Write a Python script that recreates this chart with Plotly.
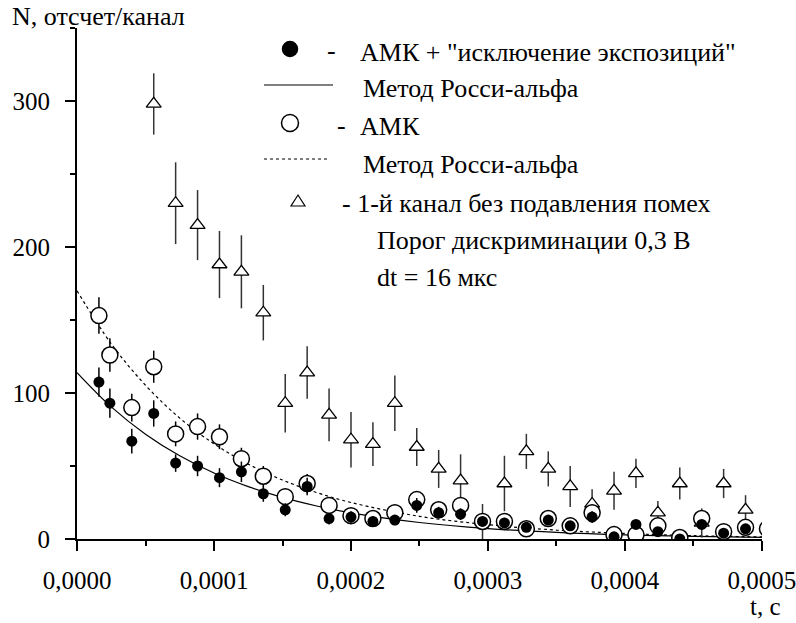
import plotly.graph_objects as go

# ---------------- data ----------------
t_circ_us = [16, 24, 40, 56, 72, 88, 104, 120, 136, 152, 168, 184, 200, 216, 232, 248,
             264, 280, 296, 312, 328, 344, 360, 376, 392, 408, 424, 440, 456, 472, 488, 504]
amk_excl = [107.5, 93, 67, 86, 52, 50, 42, 46, 31, 20, 36, 14, 15, 12, 13, 23,
            18, 17, 12, 11, 8, 13, 9, 15, 1.5, 10, 5, 0, 10, 4, 7, 7]
amk_excl_err = [10, 10, 8.5, 9, 6, 7, 6.5, 7, 5.5, 4.5, 6, 4, 4, 3.5, 3.5, 5,
                4, 4, 3.5, 3.5, 3, 3.5, 3, 4, 2, 3, 2.5, 1, 3, 2, 2.5, 2.5]
amk = [153, 126, 90, 118, 72, 77, 70, 55, 43, 29, 38, 23, 16, 14, 18, 27,
       20, 23, 12, 12, 7, 14, 9, 18, 3, 3, 9, 1, 14, 5, 8, 7]
amk_err = [12.5, 11.5, 9.5, 11, 8.5, 9, 8.5, 7.5, 7, 5.5, 6.5, 5, 4, 4, 4.5, 5.5,
           4.5, 5, 3.5, 3.5, 3, 4, 3, 4, 2, 2, 3, 1, 4, 2, 3, 3]

t_tri_us = [56, 72, 88, 104, 120, 136, 152, 168, 184, 200, 216, 232, 248, 264,
            280, 296, 312, 328, 344, 360, 376, 392, 408, 424, 440, 456, 472, 488]
chan1 = [298, 230, 215, 188, 183, 155, 93, 114, 85, 68, 65, 93, 63, 48,
         40, 12, 38, 60, 48, 36, 24, 33, 45, 18, 38, 11, 38, 20]
chan1_err = [21, 28, 24, 23, 25, 19, 20, 18, 18, 19, 15, 19, 13, 13,
             18, 12, 19, 12, 12, 14, 10, 13, 10, 8, 11, 10, 10, 10]

t_fit_us = [0, 25, 50, 75, 100, 125, 150, 175, 200, 250, 300, 350, 400, 450, 500]
fit_excl = [114, 90.5, 71.8, 57, 45.2, 35.9, 28.5, 22.6, 17.9, 11.3, 7.1, 4.5, 2.8, 1.8, 1.1]
fit_amk = [170, 133.7, 105.3, 82.8, 65.2, 51.3, 40.4, 31.8, 25, 15.5, 9.8, 6.1, 3.8, 2.3, 1.4]

x_ticks = [0, 0.0001, 0.0002, 0.0003, 0.0004, 0.0005]
y_ticks = [0, 100, 200, 300]

legend_rows = ['АМК + "исключение экспозиций"', 'Метод Росси-альфа', 'АМК',
               'Метод Росси-альфа', '- 1-й канал без подавления помех',
               'Порог дискриминации 0,3 В', 'dt = 16 мкс']

# ---------------- figure ----------------
W, H = 796, 623
ML, MR, MT, MB = 77, 34, 28, 84
PW, PH = W - ML - MR, H - MT - MB
FONT = "Liberation Serif"

def us(v):
    return [a * 1e-6 for a in v]

def px(x):
    return (x - ML) / PW

def py(y):
    return (H - MB - y) / PH

fig = go.Figure()
fig.add_trace(go.Scatter(x=us(t_fit_us), y=fit_excl, mode='lines', line_shape='spline',
                         line=dict(color='black', width=1.2), showlegend=False))
fig.add_trace(go.Scatter(x=us(t_fit_us), y=fit_amk, mode='lines', line_shape='spline',
                         line=dict(color='black', width=1.2, dash='dot'), showlegend=False))
fig.add_trace(go.Scatter(x=us(t_tri_us), y=chan1, mode='markers',
                         marker=dict(symbol='triangle-up', size=13, color='white',
                                     line=dict(color='black', width=1.3)),
                         error_y=dict(type='data', array=chan1_err, width=0, thickness=1.5, color='#333'),
                         showlegend=False))
fig.add_trace(go.Scatter(x=us(t_circ_us), y=amk, mode='markers',
                         marker=dict(symbol='circle', size=16, color='white',
                                     line=dict(color='black', width=1.5)),
                         error_y=dict(type='data', array=amk_err, width=0, thickness=1.5, color='black'),
                         showlegend=False))
fig.add_trace(go.Scatter(x=us(t_circ_us), y=amk_excl, mode='markers',
                         marker=dict(symbol='circle', size=11, color='black',
                                     line=dict(color='black', width=0)),
                         error_y=dict(type='data', array=amk_excl_err, width=0, thickness=1.5, color='black'),
                         showlegend=False))

# ---------------- legend drawn by hand ----------------
shapes = []
def circle(cx, cy, d, filled):
    shapes.append(dict(type='circle', xref='paper', yref='paper', xsizemode='pixel', ysizemode='pixel',
                       xanchor=px(cx), yanchor=py(cy), x0=-d / 2, x1=d / 2, y0=-d / 2, y1=d / 2,
                       line=dict(color='black', width=1.5),
                       fillcolor='black' if filled else 'white'))

circle(290, 49, 15, True)
circle(290, 123, 17, False)
shapes.append(dict(type='line', xref='paper', yref='paper', x0=px(264), x1=px(333), y0=py(85), y1=py(85),
                   line=dict(color='black', width=1.2)))
shapes.append(dict(type='line', xref='paper', yref='paper', x0=px(264), x1=px(329), y0=py(159), y1=py(159),
                   line=dict(color='black', width=1.2, dash='dot')))
shapes.append(dict(type='path', xref='paper', yref='paper', xsizemode='pixel', ysizemode='pixel',
                   xanchor=px(298), yanchor=py(201), path='M -7,-5 L 7,-5 L 0,6 Z',
                   line=dict(color='black', width=1.2), fillcolor='white'))

annotations = []
def text(x, y, s, anchor='left', size=26, vanchor='middle'):
    annotations.append(dict(text=s, xref='paper', yref='paper', x=px(x), y=py(y), xanchor=anchor,
                            yanchor=vanchor, showarrow=False, font=dict(family=FONT, size=size, color='black')))

text(325, 50, '-')
text(335, 125, '-')
rows_xy = [(358, 52), (361, 88), (358, 126), (361, 164), (340, 203), (375, 240), (375, 277)]
for (x, y), s in zip(rows_xy, legend_rows):
    text(x, y, s)

text(10, 17, 'N, отсчет/канал')
text(783, 622, 't, с', anchor='right', size=25, vanchor='bottom')

axis_common = dict(showline=True, linecolor='black', linewidth=2, ticks='outside', ticklen=10,
                   tickwidth=2, tickcolor='black', showgrid=False, zeroline=False,
                   tickfont=dict(family=FONT, size=25, color='black'), mirror=False,
                   ticklabeloverflow='allow', automargin=False)

fig.update_layout(
    width=W, height=H, margin=dict(l=ML, r=MR, t=MT, b=MB, pad=0, autoexpand=False),
    paper_bgcolor='white', plot_bgcolor='white', separators=', ',
    xaxis=dict(range=[0, 0.00050001], tickvals=x_ticks, tickformat='.4f',
               minor=dict(dtick=0.00005, ticklen=5, tickwidth=2, tickcolor='black', ticks='outside'),
               ticklabelstandoff=8, **axis_common),
    yaxis=dict(range=[0, 350], tickvals=y_ticks,
               minor=dict(dtick=50, ticklen=5, tickwidth=2, tickcolor='black', ticks='outside'),
               ticklabelstandoff=10, **axis_common),
    shapes=shapes, annotations=annotations, showlegend=False,
)

fig.write_html("out.html", post_script="document.body.style.margin='0px';",
               config={'displayModeBar': False})
